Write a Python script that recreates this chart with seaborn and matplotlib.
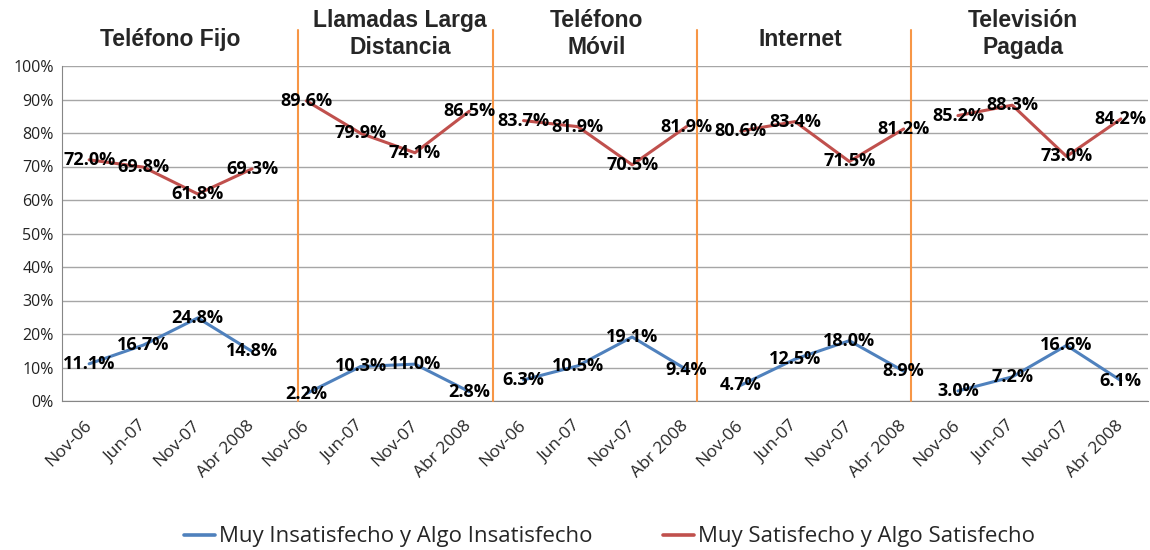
import numpy as np
import pandas as pd
import seaborn as sns
import matplotlib.pyplot as plt
from matplotlib.lines import Line2D

services = ['Teléfono Fijo', 'Llamadas Larga\nDistancia', 'Teléfono\nMóvil', 'Internet', 'Televisión\nPagada']
periods = ['Nov-06', 'Jun-07', 'Nov-07', 'Abr 2008']

insatisfecho = [11.1, 16.7, 24.8, 14.8,
                2.2, 10.3, 11.0, 2.8,
                6.3, 10.5, 19.1, 9.4,
                4.7, 12.5, 18.0, 8.9,
                3.0, 7.2, 16.6, 6.1]
satisfecho = [72.0, 69.8, 61.8, 69.3,
              89.6, 79.9, 74.1, 86.5,
              83.7, 81.9, 70.5, 81.9,
              80.6, 83.4, 71.5, 81.2,
              85.2, 88.3, 73.0, 84.2]

serie_ins = 'Muy Insatisfecho y Algo Insatisfecho'
serie_sat = 'Muy Satisfecho y Algo Satisfecho'

# separators and titles sit where the original drew them by hand
sep_x = [3.85, 7.44, 11.2, 15.14]
title_x = [1.49, 5.73, 9.34, 13.1, 17.2]

n = len(services) * len(periods)
pos = np.arange(n)
group = np.repeat(np.arange(len(services)), len(periods))

df = pd.concat([
    pd.DataFrame({'pos': pos, 'valor': insatisfecho, 'serie': serie_ins, 'grupo': group}),
    pd.DataFrame({'pos': pos, 'valor': satisfecho, 'serie': serie_sat, 'grupo': group}),
])

sns.set_style('white')
plt.rcParams['font.family'] = ['Open Sans', 'DejaVu Sans']

colors = {serie_ins: '#4F81BD', serie_sat: '#C0504D'}

fig = plt.figure(figsize=(11.5, 5.5), dpi=100)
ax = fig.add_axes([62 / 1150, 1 - 401 / 550, 1086 / 1150, 335 / 550])

sns.lineplot(data=df, x='pos', y='valor', hue='serie', units='grupo', estimator=None,
             palette=colors, linewidth=2.2, legend=False, ax=ax, zorder=3)

for s, vals in [(serie_ins, insatisfecho), (serie_sat, satisfecho)]:
    for p, v in zip(pos, vals):
        ax.text(p, v, f'{v:.1f}%', ha='center', va='center', fontsize=13,
                fontweight='bold', color='black', zorder=5)

ax.set_xlim(-0.5, n - 0.5)
ax.set_ylim(0, 100)
ax.set_yticks(np.arange(0, 101, 10))
ax.set_yticklabels([f'{t}%' for t in range(0, 101, 10)], fontsize=11.5, color='#222222')
ax.yaxis.grid(True, color='#A6A6A6', linewidth=1)
ax.set_axisbelow(True)

ax.set_xticks(pos)
ax.set_xticklabels(periods * len(services), rotation=45, ha='right', va='center',
                   rotation_mode='anchor', fontsize=12.5)
ax.set_xticks(np.arange(-0.5, n, 1), minor=True)
ax.tick_params(axis='x', which='major', length=0, pad=16)
ax.tick_params(axis='x', which='minor', length=6, color='#868686', width=1)
ax.tick_params(axis='y', length=0, pad=6)
ax.set_xlabel('')
ax.set_ylabel('')

for side in ['top', 'right']:
    ax.spines[side].set_visible(False)
for side in ['left', 'bottom']:
    ax.spines[side].set_color('#868686')

for x in sep_x:
    ax.axvline(x, ymin=0, ymax=1.107, color='#F79646', linewidth=1.5, clip_on=False, zorder=4)

for x, name in zip(title_x, services):
    y = 109.6 if '\n' in name else 108.0
    ax.text(x, y, name, ha='center', va='center', fontsize=16.5, fontweight='bold',
            family=['Liberation Sans', 'DejaVu Sans'], linespacing=1.2, clip_on=False)

handles = [Line2D([], [], color=colors[serie_ins], linewidth=2.6),
           Line2D([], [], color=colors[serie_sat], linewidth=2.6)]
fig.legend(handles, [serie_ins, serie_sat], loc='center', bbox_to_anchor=(0.53, 0.024),
           ncol=2, frameon=False, fontsize=16, handlelength=1.4, handletextpad=0.15,
           columnspacing=3.2)

fig.savefig('out.png', dpi=100)
